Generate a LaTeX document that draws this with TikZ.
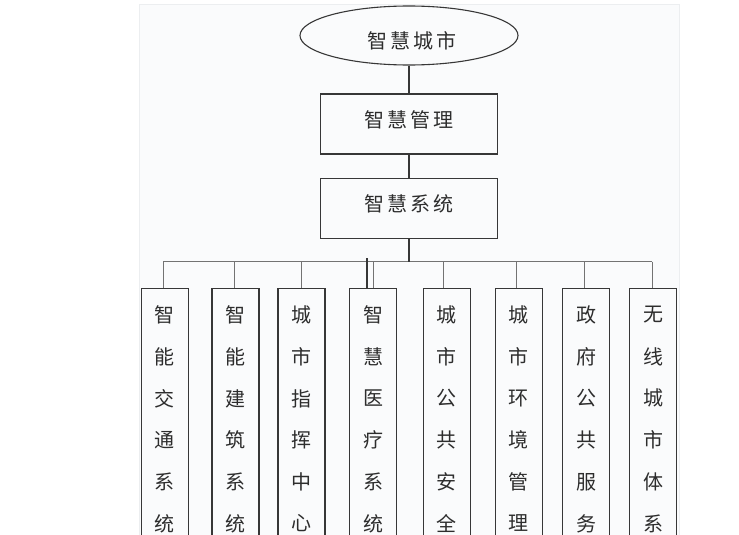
\documentclass[tikz,border=0pt]{standalone}
\usepackage{fontspec}
\newfontfamily\cjk{Noto Sans CJK SC}
\usetikzlibrary{shapes.geometric}
\definecolor{ln}{RGB}{55,55,55}
\definecolor{barc}{RGB}{115,115,115}
\definecolor{panel}{RGB}{250,251,252}
\definecolor{paneledge}{RGB}{236,238,240}
\definecolor{txtc}{RGB}{45,45,45}
\newcommand\gapp{\hspace{3pt}}
\newcommand\mkcol[4]{%
  \node[colbox] (col#1) at (#2,287.7) {};
  \foreach \c [count=\j] in {#4} {\node[ch] (t#1-\j) at (#2,315+41.7*\j-41.7) {\c};}
  \coordinate (d#1) at (#3,261.7);
  \draw[barline] (d#1) -- (d#1 |- col#1.north);
}
\begin{document}
\begin{tikzpicture}[x=1pt,y=-1pt,
  box/.style={draw=ln, line width=1.1pt, minimum width=176.6pt, minimum height=60pt, inner sep=0pt},
  colbox/.style={draw=ln, line width=1.1pt, minimum width=47pt, minimum height=290pt, inner sep=0pt, anchor=north},
  txt/.style={text=txtc, font=\cjk\fontsize{20}{20}\selectfont, inner sep=0pt},
  ch/.style={text=txtc, font=\cjk\fontsize{20}{20}\selectfont, inner sep=0pt},
  link/.style={draw=ln, line width=1.1pt},
  barline/.style={draw=barc, line width=1.2pt}]
\useasboundingbox (0,0) rectangle (739,535);
\clip (0,0) rectangle (739,535);
\fill[white] (0,0) rectangle (739,535);
\draw[paneledge, fill=panel, line width=0.6pt] (139,4) rectangle (679,545);
% top nodes
\node[ellipse, draw=ln, line width=1.1pt, minimum width=218pt, minimum height=59pt, inner sep=0pt] (city) at (409,35.5) {};
\node[txt] (cityT) at (411.5,40.5) {智\gapp 慧\gapp 城\gapp 市};
\node[box] (mgmt) at (409,124) {};
\node[txt] (mgmtT) at (409,119.5) {智\gapp 慧\gapp 管\gapp 理};
\node[box] (sys) at (409,208.7) {};
\node[txt] (sysT) at (409,204) {智\gapp 慧\gapp 系\gapp 统};
\draw[link] (city.south) -- (mgmt.north);
\draw[link] (mgmt.south) -- (sys.north);
% columns
\mkcol{1}{164.8}{163.3}{智,能,交,通,系,统}
\mkcol{2}{235.5}{234.3}{智,能,建,筑,系,统}
\mkcol{3}{301.5}{301.5}{城,市,指,挥,中,心}
\mkcol{4}{373}{373.3}{智,慧,医,疗,系,统}
\mkcol{5}{446.7}{443.3}{城,市,公,共,安,全}
\mkcol{6}{518.7}{516.7}{城,市,环,境,管,理}
\mkcol{7}{586.3}{584.3}{政,府,公,共,服,务}
\mkcol{8}{653.3}{652.3}{无,线,城,市,体,系}
\draw[barline] (d1) -- (d8);
\draw[link] (sys.south) -- (sys.south |- d1);
\coordinate (x4) at (366.7,258);
\draw[draw=ln, line width=1.6pt] (x4) -- (x4 |- col4.north);
\end{tikzpicture}
\end{document}
